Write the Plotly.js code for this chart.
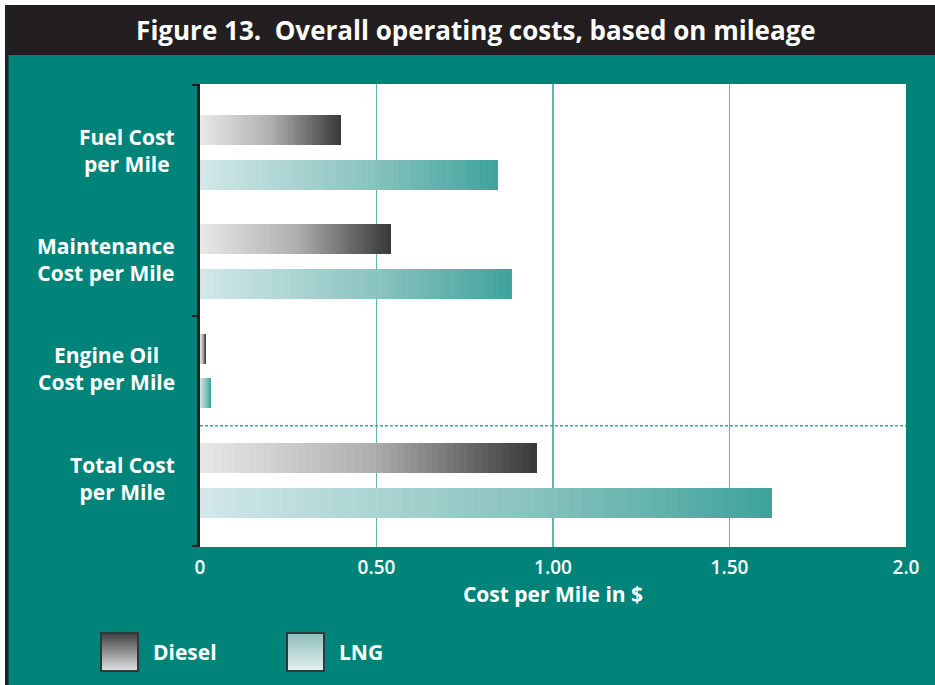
<!DOCTYPE html>
<html>
<head>
<meta charset="utf-8">
<script src="https://cdn.plot.ly/plotly-3.0.1.min.js"></script>
<style>
html,body{margin:0;padding:0;background:#ffffff;}
#chart{width:935px;height:685px;}
</style>
</head>
<body>
<div id="chart"></div>
<script>
// ---- data ----
const categories = ["Fuel Cost<br>per Mile", "Maintenance<br>Cost per Mile", "Engine Oil<br>Cost per Mile", "Total Cost<br>per Mile"];
const diesel = [0.40, 0.54, 0.016, 0.955];
const lng = [0.845, 0.885, 0.03, 1.62];
const seriesNames = ["Diesel", "LNG"];
const xTickVals = [0, 0.5, 1, 1.5, 2];
const xTickText = ["0", "0.50", "1.00", "1.50", "2.0"];

// ---- styling ----
const W = 935, H = 685;
const M = {l: 200, r: 29, t: 84, b: 138};
const TEAL = "#00847a";
const DARK = "#231f20";
const FONT = "Open Sans";
const dieselStops = [[0, [232, 232, 232]], [0.5, [176, 176, 176]], [1, [56, 56, 56]]];
const lngStops = [[0, [210, 232, 233]], [0.6, [134, 193, 189]], [1, [62, 163, 155]]];

function lerpColor(stops, t) {
  for (let i = 0; i < stops.length - 1; i++) {
    const [t0, c0] = stops[i], [t1, c1] = stops[i + 1];
    if (t <= t1) {
      const f = (t - t0) / (t1 - t0);
      const c = c0.map((v, k) => Math.round(v + (c1[k] - v) * f));
      return "rgb(" + c.join(",") + ")";
    }
  }
  const c = stops[stops.length - 1][1];
  return "rgb(" + c.join(",") + ")";
}
// pixel -> paper helpers
const pw = W - M.l - M.r, ph = H - M.t - M.b;
const px = x => (x - M.l) / pw;
const py = y => (H - M.b - y) / ph;

const idx = categories.map((_, i) => i);
const K = 48;
const barW = 0.274;
const traces = [];
[[diesel, dieselStops, -0.342], [lng, lngStops, 0.068]].forEach(([vals, stops, off], s) => {
  for (let j = K - 1; j >= 0; j--) {
    traces.push({
      type: "bar", orientation: "h",
      y: idx, x: vals.map(v => v * (j + 1) / K),
      offset: off, width: barW,
      marker: {color: lerpColor(stops, (j + 0.5) / K), line: {width: 0}},
      name: seriesNames[s], showlegend: false,
      hoverinfo: j === K - 1 ? "x+name" : "skip"
    });
  }
});

const shapes = [];
// frame
shapes.push({type: "rect", xref: "paper", yref: "paper", x0: px(0), x1: px(W), y0: py(0), y1: py(5), fillcolor: "#ffffff", line: {width: 0}, layer: "below"});
shapes.push({type: "rect", xref: "paper", yref: "paper", x0: px(0), x1: px(5), y0: py(0), y1: py(H), fillcolor: "#ffffff", line: {width: 0}, layer: "below"});
shapes.push({type: "rect", xref: "paper", yref: "paper", x0: px(5), x1: px(8.5), y0: py(5), y1: py(H), fillcolor: DARK, line: {width: 0}, layer: "below"});
shapes.push({type: "rect", xref: "paper", yref: "paper", x0: px(5), x1: px(W), y0: py(5), y1: py(55), fillcolor: DARK, line: {width: 0}, layer: "below"});
// dashed separator before total
shapes.push({type: "line", xref: "paper", yref: "y", x0: 0, x1: 1, y0: 2.5, y1: 2.5, line: {color: "#3aa59c", width: 1.5, dash: "3px,2px"}});
// legend swatches
const legendItems = [
  {name: seriesNames[0], x: 101, stops: [[0, [64, 64, 64]], [1, [226, 226, 226]]]},
  {name: seriesNames[1], x: 287, stops: [[0, [140, 189, 186]], [1, [230, 241, 239]]]}
];
const annotations = [];
legendItems.forEach(it => {
  const y0 = 633, y1 = 671, n = 19;
  for (let k = 0; k < n; k++) {
    shapes.push({type: "rect", xref: "paper", yref: "paper",
      x0: px(it.x), x1: px(it.x + 37),
      y0: py(y0 + (y1 - y0) * k / n), y1: py(y0 + (y1 - y0) * (k + 1) / n + 0.6),
      fillcolor: lerpColor(it.stops, (k + 0.5) / n), line: {width: 0}});
  }
  shapes.push({type: "rect", xref: "paper", yref: "paper", x0: px(it.x), x1: px(it.x + 37), y0: py(y0), y1: py(y1),
    line: {color: "#2a3b3a", width: 2}});
  annotations.push({xref: "paper", yref: "paper", x: px(it.x + 50), y: py(652), xanchor: "left", yanchor: "middle",
    text: it.name, showarrow: false, font: {family: FONT, size: 21, color: "#ffffff", weight: 700}});
});
// category labels
categories.forEach((c, i) => {
  annotations.push({xref: "paper", yref: "y", x: px(177), y: i, xanchor: "right", yanchor: "middle", align: "center",
    yshift: 2, text: c, showarrow: false, font: {family: FONT, size: 21, color: "#ffffff", weight: 700}});
});

const layout = {
  width: W, height: H,
  margin: M,
  paper_bgcolor: TEAL, plot_bgcolor: "#ffffff",
  barmode: "overlay", bargap: 0,
  showlegend: false,
  title: {text: "Figure 13.  Overall operating costs, based on mileage", font: {family: FONT, size: 26, color: "#ffffff", weight: 700},
    xref: "container", x: 0.509, xanchor: "center", yref: "container", y: 1 - 31 / H, yanchor: "middle"},
  xaxis: {range: [0, 2], tickvals: xTickVals, ticktext: xTickText, showgrid: true, gridcolor: "#5fb7af", gridwidth: 1.5,
    zeroline: false, showline: false, ticks: "", ticklabelstandoff: 7, tickfont: {family: FONT, size: 19, color: "#ffffff", weight: 600},
    title: {text: "Cost per Mile in $", font: {family: FONT, size: 21, color: "#ffffff", weight: 700}, standoff: 8}, fixedrange: true},
  yaxis: {range: [3.61, -0.625], showgrid: false, zeroline: false, showline: true, linecolor: DARK, linewidth: 3,
    tickvals: [-0.615, 1.5, 3.6], ticks: "outside", ticklen: 5, tickwidth: 2, tickcolor: DARK, showticklabels: false, fixedrange: true},
  shapes: shapes,
  annotations: annotations
};
Plotly.newPlot("chart", traces, layout, {displayModeBar: false, staticPlot: true});
</script>
</body>
</html>
